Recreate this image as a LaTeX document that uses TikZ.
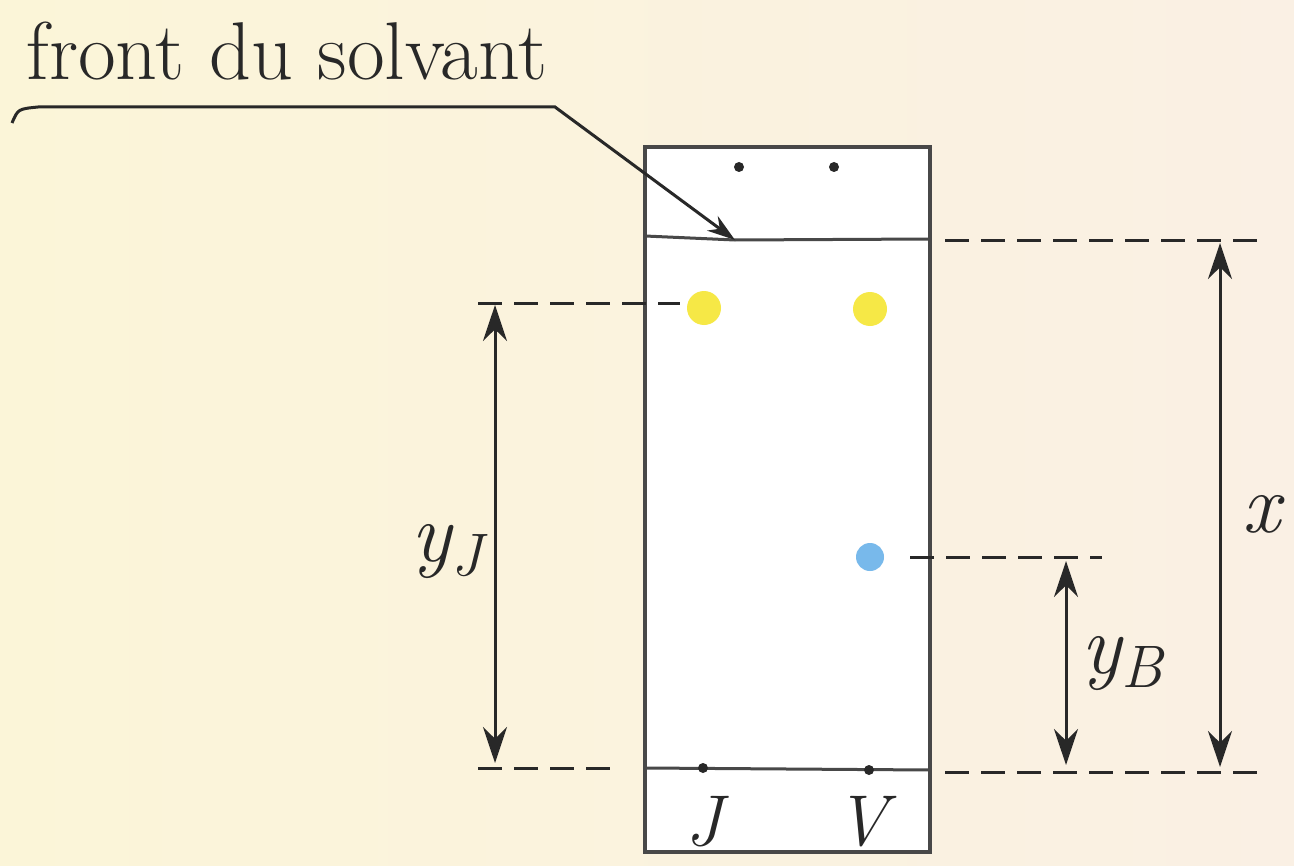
\documentclass[tikz,border=0pt]{standalone}
\usetikzlibrary{arrows.meta}
\definecolor{bgA}{RGB}{251,245,216}
\definecolor{bgB}{RGB}{250,240,228}
\definecolor{ink}{RGB}{40,40,40}
\definecolor{spotY}{RGB}{246,232,70}
\definecolor{spotB}{RGB}{120,185,235}
\begin{document}
\begin{tikzpicture}[x=0.5pt,y=-0.5pt,
  plate/.style={draw=ink!85,fill=white,line width=1.6pt,inner sep=0pt,outer sep=0pt,minimum width=142.5pt,minimum height=352.5pt},
  thin/.style={draw=ink!85,line width=1.5pt},
  guide/.style={draw=ink,line width=1.5pt,dash pattern=on 12pt off 6pt},
  dim/.style={draw=ink,line width=1.5pt,{Stealth[length=18pt,width=12pt]}-{Stealth[length=18pt,width=12pt]}},
  leader/.style={draw=ink,line width=1.5pt,-{Stealth[length=14pt,width=9pt]}},
  dot/.style={circle,fill=ink,inner sep=0pt,minimum size=5pt},
  yspot/.style={circle,fill=spotY,inner sep=0pt,minimum size=17pt},
  bspot/.style={circle,fill=spotB,inner sep=0pt,minimum size=14pt},
  lab/.style={text=ink,inner sep=0pt}]
\shade[left color=bgA,right color=bgB] (0,0) rectangle (1294,866);
\path[use as bounding box] (0,0) rectangle (1294,866);

% plate
\node[plate] (plate) at (787.5,499.5) {};

% solvent front and start line
\coordinate (fL) at (645,236);
\coordinate (fT) at (735,240);
\coordinate (fR) at (930,239);
\draw[thin] (fL) -- (fT) -- (fR);
\coordinate (sL) at (645,768);
\coordinate (sR) at (930,770);
\draw[thin] (sL) -- (sR);

% top dots
\node[dot] (t1) at (739,167) {};
\node[dot] (t2) at (834,167) {};

% spots
\node[yspot] (Y1) at (704,308) {};
\node[yspot] (Y2) at (870,309) {};
\node[bspot] (B1) at (870,557) {};

% start dots
\node[dot] (s1) at (703,768) {};
\node[dot] (s2) at (869,770) {};

% J V labels
\node[lab,font=\fontsize{36}{36}\selectfont\itshape] (J) at (704,822) {J};
\node[lab,font=\fontsize{36}{36}\selectfont\itshape] (V) at (862,822) {V};

% dashed guides
\coordinate (gL1a) at (478,303);
\coordinate (gL1b) at (680,303);
\draw[guide] (gL1a) -- (gL1b);
\coordinate (gL2a) at (478,768);
\coordinate (gL2b) at (614,768);
\draw[guide] (gL2a) -- (gL2b);
\coordinate (gR1a) at (945,240);
\coordinate (gR1b) at (1258,240);
\draw[guide] (gR1a) -- (gR1b);
\coordinate (gR2a) at (945,772);
\coordinate (gR2b) at (1258,772);
\draw[guide] (gR2a) -- (gR2b);
\coordinate (gBa) at (910,557);
\coordinate (gBb) at (1102,557);
\draw[guide] (gBa) -- (gBb);

% dimension arrows
\coordinate (yJt) at (495,305);
\coordinate (yJb) at (495,763);
\draw[dim] (yJt) -- (yJb);
\coordinate (yBt) at (1066,561);
\coordinate (yBb) at (1066,765);
\draw[dim] (yBt) -- (yBb);
\coordinate (xt) at (1220,243);
\coordinate (xb) at (1220,767);
\draw[dim] (xt) -- (xb);

% dimension labels
\node[lab] (lyJ) at (447,552) {\fontsize{42}{42}\selectfont\itshape y\raisebox{-7pt}{\fontsize{30}{30}\selectfont J}};
\node[lab] (lyB) at (1122,664) {\fontsize{42}{42}\selectfont\itshape y\raisebox{-7pt}{\fontsize{30}{30}\selectfont B}};
\node[lab,font=\fontsize{42}{42}\selectfont\itshape] (lx) at (1261,514) {x};

% front du solvant label and leader
\node[lab,anchor=base west,font=\fontsize{41}{41}\selectfont] (front) at (26,80) {front du solvant};
\coordinate (ld0) at (12,123);
\coordinate (ld1) at (38,107);
\coordinate (ld2) at (555,107);
\draw[leader] (ld0) .. controls (18,109) .. (ld1) -- (ld2) -- (fT);
\end{tikzpicture}
\end{document}
